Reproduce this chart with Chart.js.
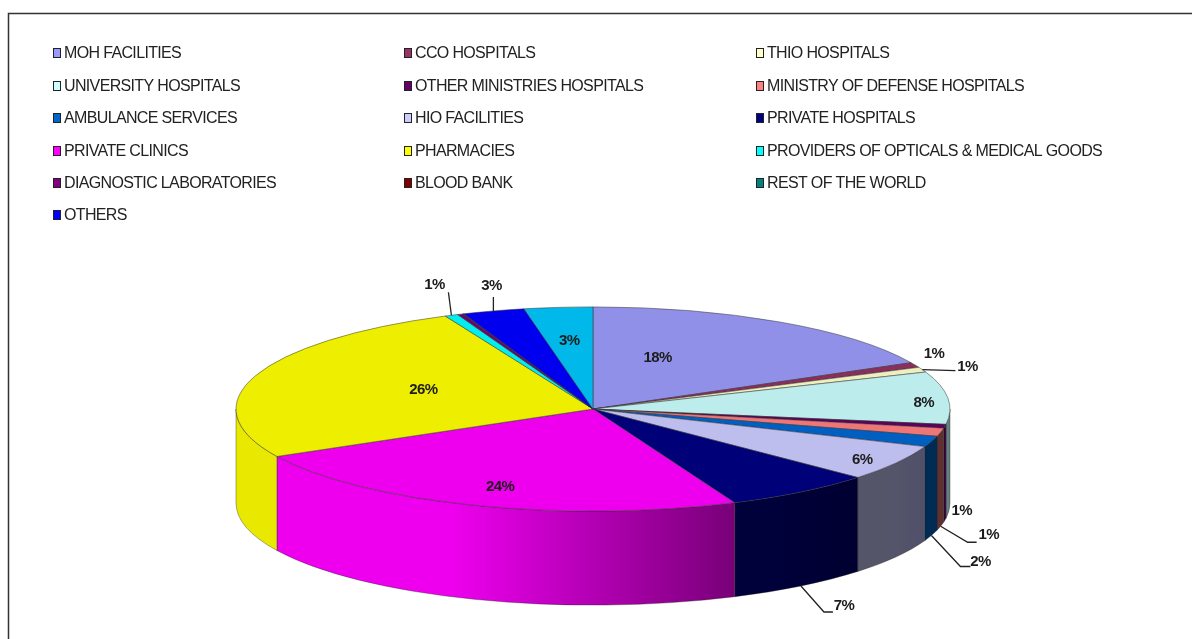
<!DOCTYPE html>
<html>
<head>
<meta charset="utf-8">
<style>
  html, body { margin: 0; padding: 0; background: #fff; }
  canvas { display: block; filter: blur(0.35px); }
</style>
<script src="https://cdn.jsdelivr.net/npm/chart.js@4/dist/chart.umd.min.js"></script>
</head>
<body>
<canvas id="chart" width="1192" height="639"></canvas>
<script>
// data
var categories = ['MOH FACILITIES', 'CCO HOSPITALS', 'THIO HOSPITALS', 'UNIVERSITY HOSPITALS',
  'OTHER MINISTRIES HOSPITALS', 'MINISTRY OF DEFENSE HOSPITALS', 'AMBULANCE SERVICES', 'HIO FACILITIES',
  'PRIVATE HOSPITALS', 'PRIVATE CLINICS', 'PHARMACIES', 'PROVIDERS OF OPTICALS & MEDICAL GOODS',
  'DIAGNOSTIC LABORATORIES', 'BLOOD BANK', 'REST OF THE WORLD', 'OTHERS', ''];
var shares = [17.5, 0.8, 0.8, 8.3, 0.6, 1.3, 1.7, 5.7, 6.8, 23.8, 25.9, 0.6, 0.25, 0.02, 0.02, 2.8, 3.1];
var percentLabels = ['18%', '1%', '1%', '8%', '1%', '1%', '2%', '6%', '7%', '24%', '26%', '1%', '', '', '', '3%', '3%'];

// colours
var legendColors = ['#9999ff', '#993366', '#ffffcc', '#ccffff', '#660066', '#ff8080', '#0066cc', '#ccccff',
  '#000080', '#ff00ff', '#ffff00', '#00ffff', '#800080', '#800000', '#008080', '#0000ff', ''];
var topColors = ['#9090e8', '#8a2e5c', '#eeeebf', '#bcecec', '#5e005e', '#ee7676', '#005fc0', '#bdbdee',
  '#000078', '#ee00ee', '#eeee00', '#00eeee', '#700070', '#780000', '#007878', '#0000ee', '#00b8ea'];
var wallLeft = ['#50507f', '#4d1d3a', '#7e7e6c', '#66807f', '#380038', '#5f3030', '#002b55', '#55556a',
  '#00003a', '#ee00ee', '#e8e800', '#00d0d0', '#500050', '#500000', '#005050', '#0000c0', '#0090c0'];
var wallRight = ['#50507f', '#4d1d3a', '#7e7e6c', '#66807f', '#380038', '#5f3030', '#002b55', '#50506a',
  '#000030', '#780078', '#e8e800', '#00d0d0', '#500050', '#500000', '#005050', '#0000c0', '#0090c0'];

// pie geometry and text placement
var RADIUS = 357, SQUASH = 0.286, DEPTH = 94;
var labelOnWall = [false, false, false, false, true, true, true, false, true, false, false, false, false, false, false, false, false];
var labelOffsets = [[-122, 36], [19, -11], [45, -3], [-24, 5], [17, -9], [48, 9], [49, 26], [-34, -3],
  [43, 20], [26, -18], [168, 14], [-17, -30], null, null, null, [-2, -25], [11, 33]];
var leaderPaths = {
  2: [[33, 1]],
  5: [[27, 16], [36, 16]],
  6: [[29, 31], [39, 31]],
  8: [[23, 26], [32, 26]],
  11: [[-3, -23]],
  15: [[0, -14]]
};
var legendColumns = [53, 404, 756];
var legendRows = [53, 86, 118, 151, 183, 215];

function rimPoint(arc, angle) {
  return { x: arc.x + RADIUS * Math.cos(angle), y: arc.y + RADIUS * SQUASH * Math.sin(angle) };
}

var framePlugin = {
  id: 'frameAndLegend',
  beforeDraw: function (chart) {
    var ctx = chart.ctx;
    ctx.save();
    ctx.strokeStyle = '#333';
    ctx.lineWidth = 1.5;
    ctx.strokeRect(8.5, 13.5, chart.width + 20, chart.height + 20);
    ctx.font = '16px "Liberation Sans"';
    ctx.letterSpacing = '-0.65px';
    ctx.textBaseline = 'middle';
    categories.forEach(function (name, i) {
      if (!name) return;
      var x = legendColumns[i % 3], y = legendRows[Math.floor(i / 3)];
      ctx.fillStyle = legendColors[i];
      ctx.strokeStyle = '#222';
      ctx.lineWidth = 1;
      ctx.fillRect(x, y - 5, 8, 10);
      ctx.strokeRect(x + 0.5, y - 4.5, 7, 9);
      ctx.fillStyle = '#222';
      ctx.fillText(name, x + 11, y + 1);
    });
    ctx.restore();
  }
};

var pie3dPlugin = {
  id: 'pie3d',
  beforeDatasetDraw: function (chart, args) {
    var ctx = chart.ctx;
    // side wall of the visible front half, from the library's own arcs
    args.meta.data.forEach(function (arc, i) {
      var a0 = Math.max(arc.startAngle, 0), a1 = Math.min(arc.endAngle, Math.PI);
      if (a1 <= a0) return;
      var p0 = rimPoint(arc, a0), p1 = rimPoint(arc, a1);
      var grad = ctx.createLinearGradient(p1.x, 0, p0.x, 0);
      grad.addColorStop(0, wallLeft[i]);
      grad.addColorStop(0.38, wallLeft[i]);
      grad.addColorStop(1, wallRight[i]);
      ctx.beginPath();
      ctx.ellipse(arc.x, arc.y, RADIUS, RADIUS * SQUASH, 0, a0, a1);
      ctx.ellipse(arc.x, arc.y + DEPTH, RADIUS, RADIUS * SQUASH, 0, a1, a0, true);
      ctx.closePath();
      ctx.fillStyle = grad;
      ctx.fill();
      ctx.strokeStyle = 'rgba(30,30,30,0.6)';
      ctx.lineWidth = 0.6;
      ctx.stroke();
    });
    // flatten the library's pie into the top face
    var first = args.meta.data[0];
    ctx.save();
    ctx.translate(first.x, first.y);
    ctx.scale(1, SQUASH);
    ctx.translate(-first.x, -first.y);
  },
  afterDatasetDraw: function (chart, args) {
    var ctx = chart.ctx;
    ctx.restore();
    ctx.save();
    ctx.font = 'bold 15px "Liberation Sans"';
    ctx.letterSpacing = '-0.6px';
    ctx.textAlign = 'center';
    ctx.textBaseline = 'middle';
    args.meta.data.forEach(function (arc, i) {
      if (!percentLabels[i]) return;
      var rim = rimPoint(arc, (arc.startAngle + arc.endAngle) / 2);
      if (labelOnWall[i]) rim.y += DEPTH;
      var leader = leaderPaths[i];
      if (leader) {
        ctx.beginPath();
        ctx.moveTo(rim.x, rim.y);
        leader.forEach(function (p) { ctx.lineTo(rim.x + p[0], rim.y + p[1]); });
        ctx.strokeStyle = '#222';
        ctx.lineWidth = 1.3;
        ctx.stroke();
      }
      ctx.fillStyle = '#1c1c1c';
      ctx.fillText(percentLabels[i], rim.x + labelOffsets[i][0], rim.y + labelOffsets[i][1]);
    });
    ctx.restore();
  }
};

new Chart(document.getElementById('chart'), {
  type: 'pie',
  data: {
    labels: categories,
    datasets: [{
      data: shares,
      backgroundColor: topColors,
      borderColor: '#333',
      borderWidth: 0.8,
      radius: RADIUS,
      clip: false
    }]
  },
  options: {
    responsive: false,
    animation: false,
    layout: { padding: { left: 0, right: 6, top: 240, bottom: 61 } },
    plugins: { legend: { display: false }, tooltip: { enabled: false } }
  },
  plugins: [framePlugin, pie3dPlugin]
});
</script>
</body>
</html>
